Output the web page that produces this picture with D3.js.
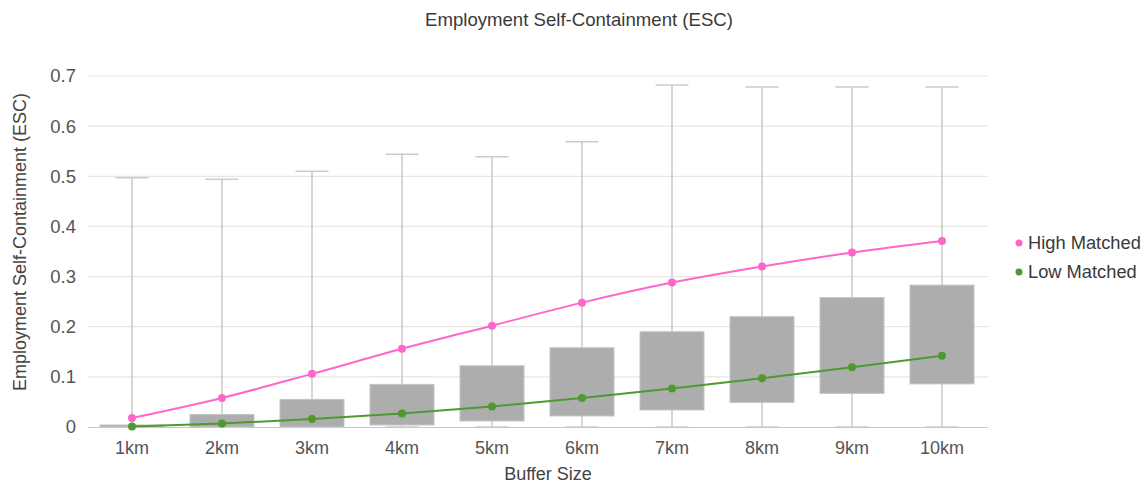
<!DOCTYPE html>
<html>
<head>
<meta charset="utf-8">
<script src="https://cdn.jsdelivr.net/npm/d3@7"></script>
<style>
  html, body { margin: 0; padding: 0; background: #ffffff; }
  svg { display: block; font-family: "Liberation Sans", Arial, sans-serif; }
</style>
</head>
<body>
<svg id="chart" width="1148" height="488"></svg>
<script>
// Buffer sizes along the x axis
const categories = ["1km", "2km", "3km", "4km", "5km", "6km", "7km", "8km", "9km", "10km"];

// Box plot statistics per buffer size
const whiskerLow  = [0, 0, 0, 0, 0, 0, 0, 0, 0, 0];
const q1          = [0, 0, 0, 0.004, 0.012, 0.022, 0.034, 0.049, 0.067, 0.086];
const q3          = [0.004, 0.025, 0.055, 0.085, 0.122, 0.158, 0.190, 0.220, 0.258, 0.283];
const whiskerHigh = [0.497, 0.494, 0.510, 0.544, 0.539, 0.569, 0.682, 0.678, 0.678, 0.678];

// Line series
const highMatched = [0.018, 0.058, 0.106, 0.156, 0.202, 0.248, 0.288, 0.320, 0.348, 0.371];
const lowMatched  = [0.001, 0.007, 0.016, 0.027, 0.041, 0.058, 0.077, 0.097, 0.119, 0.142];

const yTicks = [0, 0.1, 0.2, 0.3, 0.4, 0.5, 0.6, 0.7];

const seriesList = [
  { name: "High Matched", values: highMatched, color: "#ff66cc" },
  { name: "Low Matched",  values: lowMatched,  color: "#4f9a30" }
];

const svg = d3.select("#chart");
const plot = { left: 87, right: 987, top: 76, bottom: 427 };

const x = d3.scaleBand().domain(categories).range([plot.left, plot.right]).padding(0);
const y = d3.scaleLinear().domain([0, 0.7]).range([plot.bottom, plot.top]);
const cx = c => x(c) + x.bandwidth() / 2;

// Title
svg.append("text")
  .attr("x", 579).attr("y", 26)
  .attr("text-anchor", "middle")
  .attr("font-size", 18.6)
  .attr("fill", "#3a3a3a")
  .text("Employment Self-Containment (ESC)");

// Horizontal grid lines
svg.append("g")
  .selectAll("line")
  .data(yTicks.filter(t => t > 0))
  .join("line")
  .attr("x1", plot.left + 1).attr("x2", plot.right + 1)
  .attr("y1", d => y(d)).attr("y2", d => y(d))
  .attr("stroke", "#e6e6e6").attr("stroke-width", 1.2);

// Y axis labels
const yAxis = d3.axisLeft(y).tickValues(yTicks).tickSize(0).tickPadding(0)
  .tickFormat(d => d === 0 ? "0" : d3.format(".1f")(d));
const yg = svg.append("g").attr("transform", `translate(${plot.left - 11},0)`).call(yAxis);
yg.select(".domain").remove();
yg.selectAll("text").attr("font-size", 18.5).attr("fill", "#555555")
  .attr("font-family", "Liberation Sans, Arial, sans-serif");

// Y axis title
svg.append("text")
  .attr("transform", "translate(26,242) rotate(-90)")
  .attr("text-anchor", "middle")
  .attr("font-size", 18)
  .attr("fill", "#444444")
  .text("Employment Self-Containment (ESC)");

// Box plots
const boxW = 64, capW = 33;
const boxes = svg.append("g");
categories.forEach((c, i) => {
  const g = boxes.append("g");
  const xc = cx(c);
  // whisker stems
  g.append("line")
    .attr("x1", xc).attr("x2", xc)
    .attr("y1", y(whiskerHigh[i])).attr("y2", y(whiskerLow[i]))
    .attr("stroke", "#cccccc").attr("stroke-width", 1.6);
  // whisker caps
  [whiskerHigh[i], whiskerLow[i]].forEach(v => {
    g.append("line")
      .attr("x1", xc - capW / 2).attr("x2", xc + capW / 2)
      .attr("y1", y(v)).attr("y2", y(v))
      .attr("stroke", "#cccccc").attr("stroke-width", 1.6);
  });
  // box
  g.append("rect")
    .attr("x", xc - boxW / 2)
    .attr("width", boxW)
    .attr("y", y(q3[i]))
    .attr("height", Math.max(0.5, y(q1[i]) - y(q3[i])))
    .attr("fill", "#adadad")
    .attr("stroke", "#c4c4c4").attr("stroke-width", 1);
});

// Bottom axis line
svg.append("line")
  .attr("x1", plot.left + 1).attr("x2", plot.right + 1)
  .attr("y1", plot.bottom + 0.5).attr("y2", plot.bottom + 0.5)
  .attr("stroke", "#c8c8c8").attr("stroke-width", 1.2);

// X axis labels
const xAxis = d3.axisBottom(x).tickSize(0).tickPadding(0);
const xg = svg.append("g").attr("transform", `translate(0,${plot.bottom + 14})`).call(xAxis);
xg.select(".domain").remove();
xg.selectAll("text").attr("font-size", 18).attr("fill", "#555555")
  .attr("font-family", "Liberation Sans, Arial, sans-serif");

// X axis title
svg.append("text")
  .attr("x", 548).attr("y", 480)
  .attr("text-anchor", "middle")
  .attr("font-size", 18)
  .attr("fill", "#444444")
  .text("Buffer Size");

// Line series with markers
const line = d3.line()
  .x((d, i) => cx(categories[i]))
  .y(d => y(d))
  .curve(d3.curveMonotoneX);

seriesList.forEach(s => {
  const g = svg.append("g");
  g.append("path")
    .datum(s.values)
    .attr("d", line)
    .attr("fill", "none")
    .attr("stroke", s.color)
    .attr("stroke-width", 2);
  g.selectAll("circle")
    .data(s.values)
    .join("circle")
    .attr("cx", (d, i) => cx(categories[i]))
    .attr("cy", d => y(d))
    .attr("r", 4)
    .attr("fill", s.color);
});

// Legend
const legend = svg.append("g").attr("transform", "translate(1019,243)");
seriesList.forEach((s, i) => {
  const row = legend.append("g").attr("transform", `translate(0,${i * 29})`);
  row.append("circle").attr("r", 3.5).attr("fill", s.color);
  row.append("text")
    .attr("x", 9).attr("y", 6)
    .attr("font-size", 18.3)
    .attr("fill", "#3a3a3a")
    .text(s.name);
});
</script>
</body>
</html>
